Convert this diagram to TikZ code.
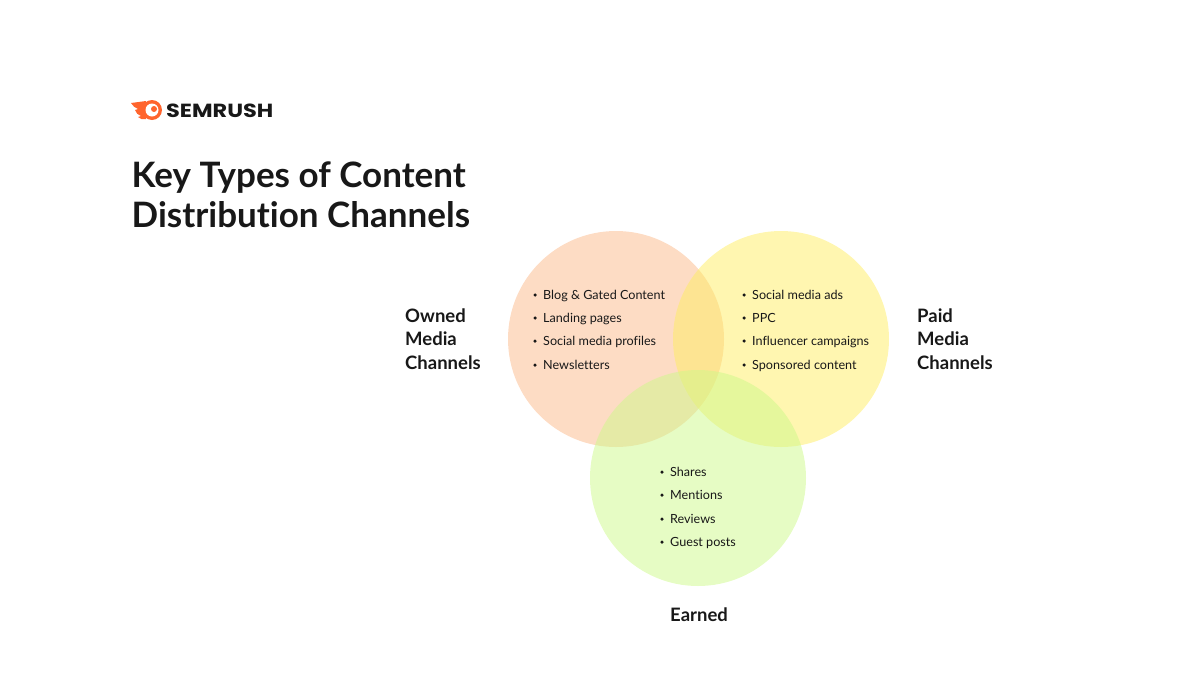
\documentclass[tikz,border=0pt]{standalone}
\usepackage{fontspec}
\setmainfont[Ligatures=NoCommon]{Lato}
\newfontfamily\logofont[FakeStretch=1.18]{Poppins}
\definecolor{ownedfill}{HTML}{FBB98A}
\definecolor{paidfill}{HTML}{FFED61}
\definecolor{earnedfill}{HTML}{CDF989}
\definecolor{logoorange}{HTML}{FF642D}
\definecolor{inktext}{HTML}{181818}
\tikzset{
  venn/.style={circle,minimum size=216pt,inner sep=0pt,fill opacity=0.5},
  titleline/.style={anchor=base west,inner sep=0pt,text=inktext,font=\fontsize{35}{40}\selectfont\bfseries},
  sidelabel/.style={anchor=base west,inner sep=0pt,text=inktext,font=\fontsize{18.5}{20}\selectfont\bfseries},
  listitem/.style={anchor=base west,inner sep=0pt,text=inktext,font=\fontsize{12.6}{14}\selectfont},
  dotitem/.style={circle,fill=inktext,minimum size=3.5pt,inner sep=0pt},
}
\newcommand\bulletrow[4]{%
  \node [dotitem] (#1dot) at (#2-8,#3-4) {};
  \node [listitem] (#1) at (#2,#3) {#4};
}
\begin{document}
\begin{tikzpicture}[x=1pt,y=-1pt]
\useasboundingbox (0,0) rectangle (1200,675);

% to draw logo
\fill [logoorange] (131,103) -- (146,101) -- (146,119) .. controls (143,120) and (140,119) .. (138,117) -- (141,116) .. controls (138,115) and (136,113) .. (135,110) -- (138,109) .. controls (135,108) and (133,106) .. (131,103) -- cycle;
\fill [logoorange] (152,110) circle (10);
\fill [white] (152,110) circle (6.5);
\fill [logoorange] (154,109) circle (3);
\node [anchor=base west,inner sep=0pt,text=inktext,font=\logofont\fontsize{19}{22}\selectfont\bfseries] (logotext) at (166,117) {SEMRUSH};

% to write title
\node [titleline] (title1) at (131.5,187) {Key Types of Content};
\node [titleline] (title2) at (131.5,227) {Distribution Channels};

% to draw circles
\node [venn,fill=ownedfill] (owned) at (616,339) {};
\node [venn,fill=paidfill] (paid) at (781,339) {};
\node [venn,fill=earnedfill] (earned) at (698,478) {};

% side labels
\node [sidelabel] (ownedA) at (405,322) {Owned};
\node [sidelabel] (ownedB) at (405,345) {Media};
\node [sidelabel] (ownedC) at (405,369) {Channels};
\node [sidelabel] (paidA) at (917,322) {Paid};
\node [sidelabel] (paidB) at (917,345) {Media};
\node [sidelabel] (paidC) at (917,369) {Channels};
\node [sidelabel] (earnedlabel) at (670,621) {Earned};

% owned list
\bulletrow{ownedi}{543}{299}{Blog \& Gated Content}
\bulletrow{ownedii}{543}{322}{Landing pages}
\bulletrow{ownediii}{543}{345}{Social media profiles}
\bulletrow{ownediv}{543}{369}{Newsletters}
% paid list
\bulletrow{paidi}{752}{299}{Social media ads}
\bulletrow{paidii}{752}{322}{PPC}
\bulletrow{paidiii}{752}{345}{Influencer campaigns}
\bulletrow{paidiv}{752}{369}{Sponsored content}
% earned list
\bulletrow{earnedi}{670}{476}{Shares}
\bulletrow{earnedii}{670}{499}{Mentions}
\bulletrow{earnediii}{670}{523}{Reviews}
\bulletrow{earnediv}{670}{546}{Guest posts}
\end{tikzpicture}
\end{document}
